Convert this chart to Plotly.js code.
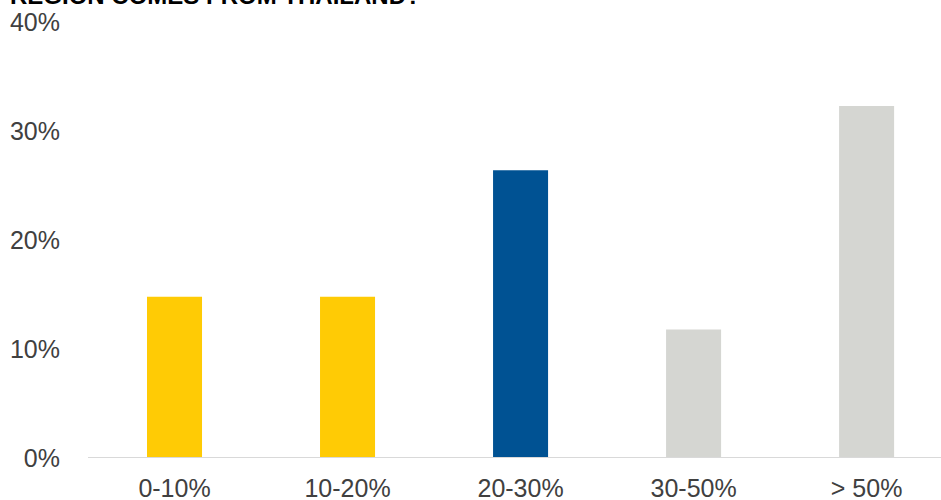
<!DOCTYPE html>
<html>
<head>
<meta charset="utf-8">
<script src="https://cdn.plot.ly/plotly-3.0.1.min.js"></script>
<style>html,body{margin:0;padding:0;background:#fff;}#chart{width:941px;height:500px;}</style>
</head>
<body>
<div id="chart"></div>
<script>
var categories = ["0-10%", "10-20%", "20-30%", "30-50%", "> 50%"];
var values = [14.8, 14.8, 26.4, 11.8, 32.3];
var barColors = ["#FFCB05", "#FFCB05", "#005293", "#D5D6D2", "#D5D6D2"];
var yTickVals = [0, 10, 20, 30, 40];
var yTickText = ["0%", "10%", "20%", "30%", "40%"];
var titleText = "REGION COMES FROM THAILAND?";

var trace = {
  type: "bar",
  x: categories,
  y: values,
  marker: {color: barColors, line: {width: 0}},
  width: 0.318,
  hoverinfo: "x+y"
};

var layout = {
  width: 941,
  height: 500,
  margin: {l: 88, r: 0, t: 22, b: 42, pad: 0},
  paper_bgcolor: "#ffffff",
  plot_bgcolor: "#ffffff",
  showlegend: false,
  font: {family: "Liberation Sans, Arial, sans-serif", color: "#404040", size: 25},
  xaxis: {
    type: "category",
    range: [-0.5, 4.43],
    showgrid: false,
    zeroline: false,
    showline: false,
    ticks: "outside",
    ticklen: 8,
    tickcolor: "rgba(0,0,0,0)",
    tickfont: {size: 25, color: "#404040"},
    fixedrange: true
  },
  yaxis: {
    range: [0, 40],
    tickvals: yTickVals,
    ticktext: yTickText,
    showgrid: false,
    zeroline: false,
    showline: false,
    ticks: "outside",
    ticklen: 22,
    tickcolor: "rgba(0,0,0,0)",
    tickfont: {size: 25, color: "#404040"},
    fixedrange: true
  },
  shapes: [{
    type: "line", xref: "paper", yref: "y",
    x0: 0, x1: 1, y0: 0, y1: 0,
    line: {color: "#D9D9D9", width: 2}
  }],
  annotations: [{
    text: "<b>" + titleText + "</b>",
    xref: "paper", yref: "paper",
    x: -88/853, y: 1 + 17/436,
    xanchor: "left", yanchor: "middle",
    xshift: 8,
    yshift: 10,
    showarrow: false,
    font: {size: 24, color: "#000000", family: "Liberation Sans, Arial, sans-serif"}
  }]
};

Plotly.newPlot("chart", [trace], layout, {displayModeBar: false, staticPlot: true});
</script>
</body>
</html>
